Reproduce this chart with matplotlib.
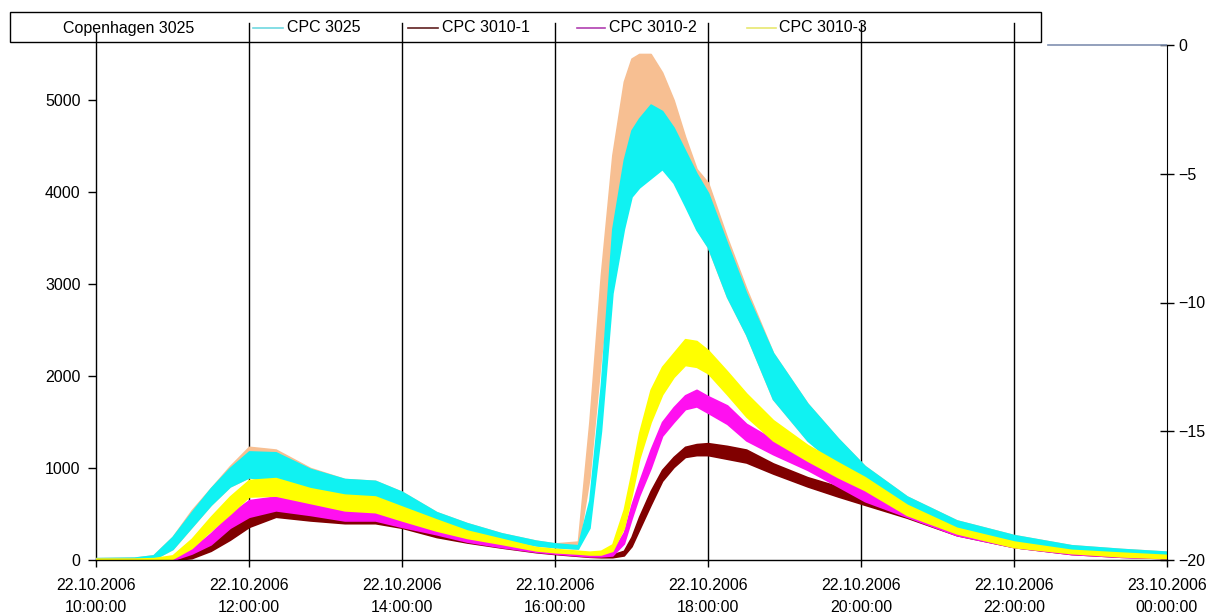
import matplotlib
matplotlib.use("Agg")
import matplotlib.pyplot as plt
import matplotlib.dates as mdates
from matplotlib.lines import Line2D
from matplotlib.patches import Rectangle
import pandas as pd

# sample times (clock time on 22.10.2006, "24:00" = midnight)
times = ["10:00", "10:30", "10:45", "11:00", "11:15", "11:30", "11:45", "12:00",
         "12:21", "12:48", "13:15", "13:39", "14:00", "14:27", "14:51", "15:18",
         "15:45", "16:00", "16:18", "16:27", "16:36", "16:45", "16:54", "17:00",
         "17:06", "17:15", "17:24", "17:33", "17:42", "17:51", "18:00", "18:15",
         "18:30", "18:51", "19:18", "19:42", "20:03", "20:36", "21:15", "22:00",
         "22:45", "23:24", "24:00"]

# each series is a noisy band: upper and lower envelope
cph_hi = [20, 25, 50, 250, 540, 780, 1020, 1230, 1200, 1000, 880, 860, 740, 520, 400, 290,
          210, 180, 200, 1500, 3100, 4400, 5200, 5450, 5500, 5500, 5300, 5000, 4600, 4250,
          4100, 3500, 2950, 2250, 1700, 1320, 1020, 690, 430, 270, 160, 120, 90]
cph_lo = [0, 5, 10, 120, 360, 600, 800, 900, 850, 740, 650, 620, 540, 380, 300, 230,
          160, 140, 125, 900, 2200, 3300, 3900, 4100, 4200, 4300, 4400, 4200, 3900, 3600,
          3400, 2860, 2450, 1750, 1300, 1020, 810, 540, 330, 180, 110, 70, 40]

cpc3025_hi = [20, 25, 50, 250, 520, 780, 1000, 1180, 1170, 990, 880, 860, 740, 520, 400, 290,
              210, 180, 160, 650, 1900, 3600, 4350, 4670, 4800, 4950, 4880, 4700, 4450, 4200,
              3990, 3440, 2900, 2250, 1700, 1320, 1020, 690, 430, 270, 160, 120, 90]
cpc3025_lo = [0, 5, 10, 120, 360, 600, 800, 900, 850, 740, 650, 620, 540, 380, 300, 230,
              160, 140, 125, 350, 1400, 2900, 3600, 3950, 4050, 4150, 4250, 4100, 3850, 3590,
              3400, 2860, 2450, 1750, 1300, 1020, 810, 540, 330, 180, 110, 70, 40]

cpc3010_1_hi = [5, 5, 5, 5, 60, 200, 360, 490, 580, 540, 490, 490, 430, 330, 250, 180,
                120, 100, 70, 60, 55, 60, 100, 250, 470, 750, 980, 1120, 1230, 1260,
                1270, 1240, 1200, 1050, 900, 800, 690, 510, 330, 180, 100, 70, 45]
cpc3010_1_lo = [0, 0, 0, 0, 20, 100, 220, 360, 470, 430, 400, 400, 350, 250, 190, 135,
                85, 65, 45, 35, 30, 30, 50, 150, 330, 600, 860, 1010, 1120, 1140,
                1140, 1100, 1060, 940, 800, 690, 600, 460, 270, 140, 65, 35, 20]

cpc3010_2_hi = [10, 10, 10, 15, 120, 290, 500, 650, 690, 630, 560, 560, 470, 360, 260, 190,
                125, 105, 80, 70, 70, 90, 300, 600, 850, 1200, 1500, 1660, 1790, 1850,
                1780, 1680, 1480, 1310, 1090, 910, 790, 520, 330, 180, 100, 70, 45]
cpc3010_2_lo = [0, 0, 0, 0, 70, 170, 350, 470, 540, 490, 430, 430, 360, 280, 200, 140,
                90, 70, 50, 40, 40, 50, 180, 450, 700, 1000, 1350, 1500, 1640, 1670,
                1600, 1480, 1300, 1150, 980, 800, 640, 470, 270, 140, 65, 35, 20]

cpc3010_3_hi = [15, 15, 20, 50, 230, 470, 690, 870, 890, 780, 710, 690, 580, 440, 320, 230,
                140, 120, 100, 90, 100, 170, 550, 950, 1380, 1850, 2100, 2250, 2400, 2380,
                2280, 2050, 1810, 1520, 1250, 1060, 900, 600, 350, 200, 110, 80, 55]
cpc3010_3_lo = [0, 0, 0, 15, 130, 320, 500, 690, 700, 620, 540, 520, 430, 320, 240, 175,
                105, 85, 70, 60, 60, 100, 350, 700, 1100, 1500, 1800, 1990, 2120, 2100,
                2030, 1800, 1560, 1300, 1080, 900, 760, 490, 290, 140, 75, 40, 20]

# secondary-axis series (flat at 0)
sec_times = ["22:27", "24:00"]
sec_values = [0, 0]

labels = ["Copenhagen 3025", "CPC 3025", "CPC 3010-1", "CPC 3010-2", "CPC 3010-3"]
colors = ["#F7BF92", "#10F2F2", "#800000", "#FF10F0", "#FFFF00"]
legend_colors = ["#F7BF92", "#70D8E0", "#602020", "#B040B0", "#E8E870"]


def to_dt(lst):
    day = pd.Timestamp("2006-10-22")
    return [day + pd.to_timedelta(t + ":00") for t in lst]


x = to_dt(times)
bands = [(cph_lo, cph_hi), (cpc3025_lo, cpc3025_hi), (cpc3010_1_lo, cpc3010_1_hi),
         (cpc3010_2_lo, cpc3010_2_hi), (cpc3010_3_lo, cpc3010_3_hi)]

plt.rcParams['font.family'] = ['Liberation Sans', 'DejaVu Sans']
fig = plt.figure(figsize=(12.06, 6.14), dpi=100)
W, H = 1206.0, 614.0
ax = fig.add_axes([96 / W, 54 / H, (1167 - 96) / W, (560 - 33) / H])

for i, (lo, hi) in enumerate(bands):
    ax.fill_between(x, lo, hi, color=colors[i], linewidth=1.2, edgecolor=colors[i], zorder=3 + i)

x0 = pd.Timestamp("2006-10-22 10:00")
x1 = pd.Timestamp("2006-10-23 00:00")
ax.set_xlim(x0, x1)
ax.set_ylim(0, (560 - 33) / 0.092)
ax.set_yticks([0, 1000, 2000, 3000, 4000, 5000])

ticks = pd.date_range(x0, x1, freq="2h")
ax.set_xticks(ticks)
ax.xaxis.set_major_formatter(mdates.DateFormatter("%d.%m.%Y\n%H:%M:%S"))
for t in ticks[1:-1]:
    ax.axvline(t, ymax=1.019, color="black", linewidth=1, clip_on=False, zorder=1)

for s in ["top", "right"]:
    ax.spines[s].set_visible(False)
ax.spines["left"].set_linewidth(1)
ax.spines["bottom"].set_linewidth(1)
ax.spines["bottom"].set_zorder(10)
ax.tick_params(axis="y", direction="out", length=6, width=1, pad=5, labelsize=11.5)
ax.tick_params(axis="x", direction="out", length=5, width=1, pad=8, labelsize=11.5)
for lbl in ax.get_xticklabels():
    lbl.set_linespacing(1.55)

ax2 = ax.twinx()
ax2.set_ylim(-20, 20 * (560 - 33) / 515 - 20)
ax2.set_yticks([0, -5, -10, -15, -20])
ax2.spines["right"].set_bounds(-20, 0)
for s in ["top", "left", "bottom"]:
    ax2.spines[s].set_visible(False)
ax2.tick_params(axis="y", direction="inout", length=10, width=1, pad=3, labelsize=11.5)
ax2.plot(to_dt(sec_times), sec_values, color="#8090B0", linewidth=1.2)

# legend box
fig.patches.append(Rectangle((10 / W, 1 - 42 / H), (1041 - 10) / W, 30 / H,
                             transform=fig.transFigure, facecolor="none",
                             edgecolor="black", linewidth=1, zorder=20))
leg_lines = [None, (253, 283), (408, 438), (577, 605), (747, 776)]
leg_text_x = [63, 287, 442, 609, 779]
ly = 1 - 28 / H
for i, lab in enumerate(labels):
    if leg_lines[i] is not None:
        a, b = leg_lines[i]
        fig.lines.append(Line2D([a / W, b / W], [ly, ly], transform=fig.transFigure,
                                color=legend_colors[i], linewidth=1.2, zorder=21))
    fig.text(leg_text_x[i] / W, ly, lab, fontsize=11.5, ha="left", va="center", zorder=21)

fig.savefig("out.png", dpi=100)
